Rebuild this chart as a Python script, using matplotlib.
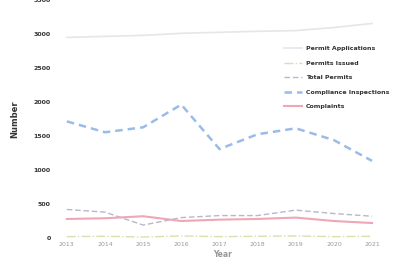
import matplotlib
matplotlib.use("Agg")
import matplotlib.pyplot as plt

years = [2013, 2014, 2015, 2016, 2017, 2018, 2019, 2020, 2021]
permit_applications = [2950, 2965, 2980, 3010, 3025, 3040, 3050, 3095, 3155]
permits_issued = [20, 25, 15, 30, 20, 25, 30, 20, 25]
total_permits = [420, 380, 190, 300, 330, 330, 410, 360, 320]
compliance_inspections = [1715, 1555, 1628, 1962, 1308, 1526, 1613, 1439, 1134]
complaints = [280, 290, 320, 250, 270, 280, 300, 250, 220]

fig = plt.figure(figsize=(4.01, 2.66), dpi=100)
ax = fig.add_axes([55 / 401, 28 / 266, 335 / 401, 238 / 266])

ax.plot(years, permit_applications, color="#e6e6e6", lw=1.2, label="Permit Applications")
ax.plot(years, permits_issued, color="#d9dfb0", lw=1.0, ls="-.", label="Permits Issued")
ax.plot(years, total_permits, color="#b8b8c8", lw=1.0, ls=(0, (4, 2)), label="Total Permits")
ax.plot(years, compliance_inspections, color="#9bbbe8", lw=1.8, ls=(0, (3, 2)),
        label="Compliance Inspections")
ax.plot(years, complaints, color="#f0a6b4", lw=1.5, label="Complaints")

ax.set_xlim(2012.69, 2021.47)
ax.set_ylim(0, 3500)
ax.set_xticks(years)
ax.set_yticks(range(0, 3501, 500))
ax.tick_params(length=0, labelsize=4.5, colors="#333333", pad=3)
for lab in ax.get_xticklabels():
    lab.set_color("#999999")
for lab in ax.get_yticklabels():
    lab.set_fontweight("bold")
for s in ax.spines.values():
    s.set_visible(False)

ax.set_xlabel("Year", fontsize=5.5, color="#999999", fontweight="bold", labelpad=2)
ax.set_ylabel("Number", fontsize=6, color="#333333", fontweight="bold", labelpad=10)

leg = ax.legend(loc="upper right", bbox_to_anchor=(1.015, 0.83), frameon=False,
                prop={"size": 4.5, "weight": "bold"},
                handlelength=3, labelspacing=1.45, handletextpad=0.6)
for t in leg.get_texts():
    t.set_color("#333333")

fig.savefig("out.png", dpi=100)
